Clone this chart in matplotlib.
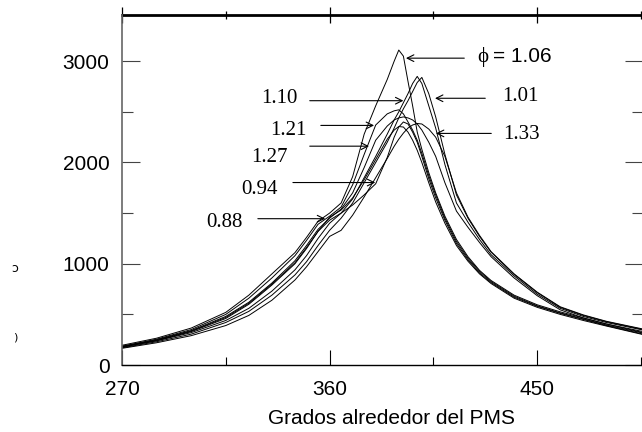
import matplotlib
matplotlib.use("Agg")
import matplotlib.pyplot as plt
from matplotlib.ticker import MultipleLocator

plt.rcParams['font.family'] = ['Liberation Sans', 'DejaVu Sans']

# crank angle grid (deg) and pressure traces
ang = [270, 285, 300, 315, 325, 335, 345, 350, 355, 360, 365, 370, 375, 380, 385, 388,
       390, 392, 394, 396, 398, 400, 403, 406, 410, 415, 420, 425, 430, 440, 450, 460,
       470, 480, 496]

p_106 = [195, 265, 365, 520, 690, 900, 1110, 1260, 1420, 1500, 1600, 1860, 2280, 2560, 2820, 3000,
         3110, 3050, 2800, 2560, 2300, 2130, 1900, 1700, 1470, 1240, 1070, 935, 835, 690, 595, 525,
         465, 405, 320]
p_121 = [185, 255, 350, 500, 660, 860, 1080, 1230, 1390, 1470, 1560, 1780, 2080, 2370, 2480, 2510,
         2520, 2480, 2400, 2320, 2220, 2090, 1870, 1680, 1450, 1220, 1055, 925, 825, 680, 585, 515,
         455, 395, 315]
p_094 = [180, 245, 335, 470, 610, 800, 1010, 1160, 1320, 1430, 1500, 1580, 1680, 1790, 2050, 2250,
         2350, 2400, 2380, 2300, 2200, 2060, 1840, 1650, 1430, 1200, 1040, 910, 815, 670, 580, 510,
         450, 390, 305]
p_088 = [175, 240, 330, 460, 600, 790, 1000, 1150, 1320, 1460, 1530, 1650, 1830, 2030, 2230, 2320,
         2355, 2350, 2300, 2220, 2120, 2000, 1800, 1610, 1400, 1180, 1025, 900, 805, 660, 570, 500,
         440, 385, 300]
p_110 = [180, 240, 320, 440, 560, 730, 940, 1080, 1250, 1400, 1500, 1640, 1850, 2060, 2280, 2420,
         2500, 2590, 2680, 2780, 2850, 2780, 2560, 2340, 1980, 1600, 1410, 1240, 1090, 880, 700, 560,
         480, 420, 345]
p_101 = [170, 230, 305, 420, 530, 690, 890, 1020, 1180, 1330, 1450, 1600, 1800, 2000, 2200, 2340,
         2440, 2530, 2610, 2700, 2790, 2840, 2680, 2450, 2080, 1680, 1450, 1270, 1115, 895, 715, 570,
         490, 428, 350]
p_127 = [185, 250, 340, 480, 620, 810, 1030, 1180, 1340, 1450, 1540, 1700, 1950, 2220, 2360, 2420,
         2440, 2450, 2440, 2420, 2380, 2320, 2200, 2060, 1800, 1520, 1360, 1210, 1070, 860, 685, 545,
         465, 405, 330]
p_133 = [165, 220, 290, 390, 490, 640, 840, 970, 1120, 1270, 1330, 1480, 1660, 1850, 2040, 2160,
         2230, 2290, 2340, 2370, 2385, 2380, 2330, 2250, 2060, 1700, 1460, 1280, 1120, 900, 720, 575,
         495, 432, 355]

traces = [p_088, p_094, p_101, p_106, p_110, p_121, p_127, p_133]

fig = plt.figure(figsize=(6.42, 4.32), dpi=100)
ax = fig.add_axes([0.190, 0.155, 0.812, 0.810])

for p in traces:
    ax.plot(ang, p, color='black', lw=0.7)

ax.set_xlim(270, 496)
ax.set_ylim(0, 3455)

ax.xaxis.set_major_locator(MultipleLocator(90))
ax.xaxis.set_minor_locator(MultipleLocator(45))
ax.yaxis.set_major_locator(MultipleLocator(1000))
ax.yaxis.set_minor_locator(MultipleLocator(500))

ax.tick_params(axis='y', which='both', direction='in', left=True, right=True,
               colors='#444444', labelcolor='black', labelsize=15, pad=9, width=0.8)
ax.tick_params(axis='y', which='major', length=13)
ax.tick_params(axis='y', which='minor', length=8)
ax.tick_params(axis='x', which='both', direction='in', top=False, labelsize=15, pad=11, width=0.8)
ax.tick_params(axis='x', which='major', length=11)
ax.tick_params(axis='x', which='minor', length=6)

ax.spines['top'].set_visible(False)
ax.spines['left'].set_color('#666666')
ax.spines['left'].set_linewidth(1.2)
ax.spines['bottom'].set_linewidth(1.0)
ax.spines['right'].set_linewidth(1.0)

# thick top frame with ticks crossing it
top = ax.secondary_xaxis('top')
top.xaxis.set_major_locator(MultipleLocator(90))
top.xaxis.set_minor_locator(MultipleLocator(45))
top.tick_params(which='both', direction='inout', labeltop=False, width=0.9)
top.tick_params(which='major', length=11)
top.tick_params(which='minor', length=6)
top.spines['top'].set_linewidth(2.0)

fig.text(392 / 642, 1 - 418 / 432, 'Grados alrededor del PMS', ha='center', va='center', fontsize=15)
# remains of the cropped y label at the left edge
fig.text(15 / 642, 1 - 268 / 432, 'ɔ', ha='center', va='center', fontsize=9, family='DejaVu Sans')
fig.text(15 / 642, 1 - 337 / 432, ')', ha='center', va='center', fontsize=8, family='DejaVu Sans')

serif = ['Liberation Serif', 'DejaVu Serif']
arr = dict(arrowstyle='->', lw=0.8, color='black', mutation_scale=12)

# labels on the left, arrow pointing right
left_labels = [
    ('1.10', 345.9, 2634, 350.2, 393.2, 2610),
    ('1.21', 350.2, 2317, 355.0, 380.5, 2366),
    ('1.27', 342.0, 2049, 350.2, 378.3, 2161),
    ('0.94', 337.7, 1733, 342.9, 381.0, 1802),
    ('0.88', 322.5, 1406, 327.7, 359.3, 1445),
]
for txt, tx, ty, x0, x1, ya in left_labels:
    ax.text(tx, ty, txt, ha='right', va='center', fontsize=15, family=serif)
    ax.annotate('', xy=(x1, ya), xytext=(x0, ya), arrowprops=arr)

# labels on the right, arrow pointing left
right_labels = [
    ('1.01', 434.8, 2653, 428.7, 404.5, 2634),
    ('1.33', 435.2, 2277, 431.3, 404.9, 2287),
]
for txt, tx, ty, x0, x1, ya in right_labels:
    ax.text(tx, ty, txt, ha='left', va='center', fontsize=15, family=serif)
    ax.annotate('', xy=(x1, ya), xytext=(x0, ya), arrowprops=arr)

ax.text(426.6, 3045, 'ϕ', ha='center', va='center', fontsize=15, family=serif)
ax.text(430.9, 3050, '= 1.06', ha='left', va='center', fontsize=15)
ax.annotate('', xy=(391.9, 3030), xytext=(419.6, 3030), arrowprops=arr)

fig.savefig('out.png', dpi=100)
